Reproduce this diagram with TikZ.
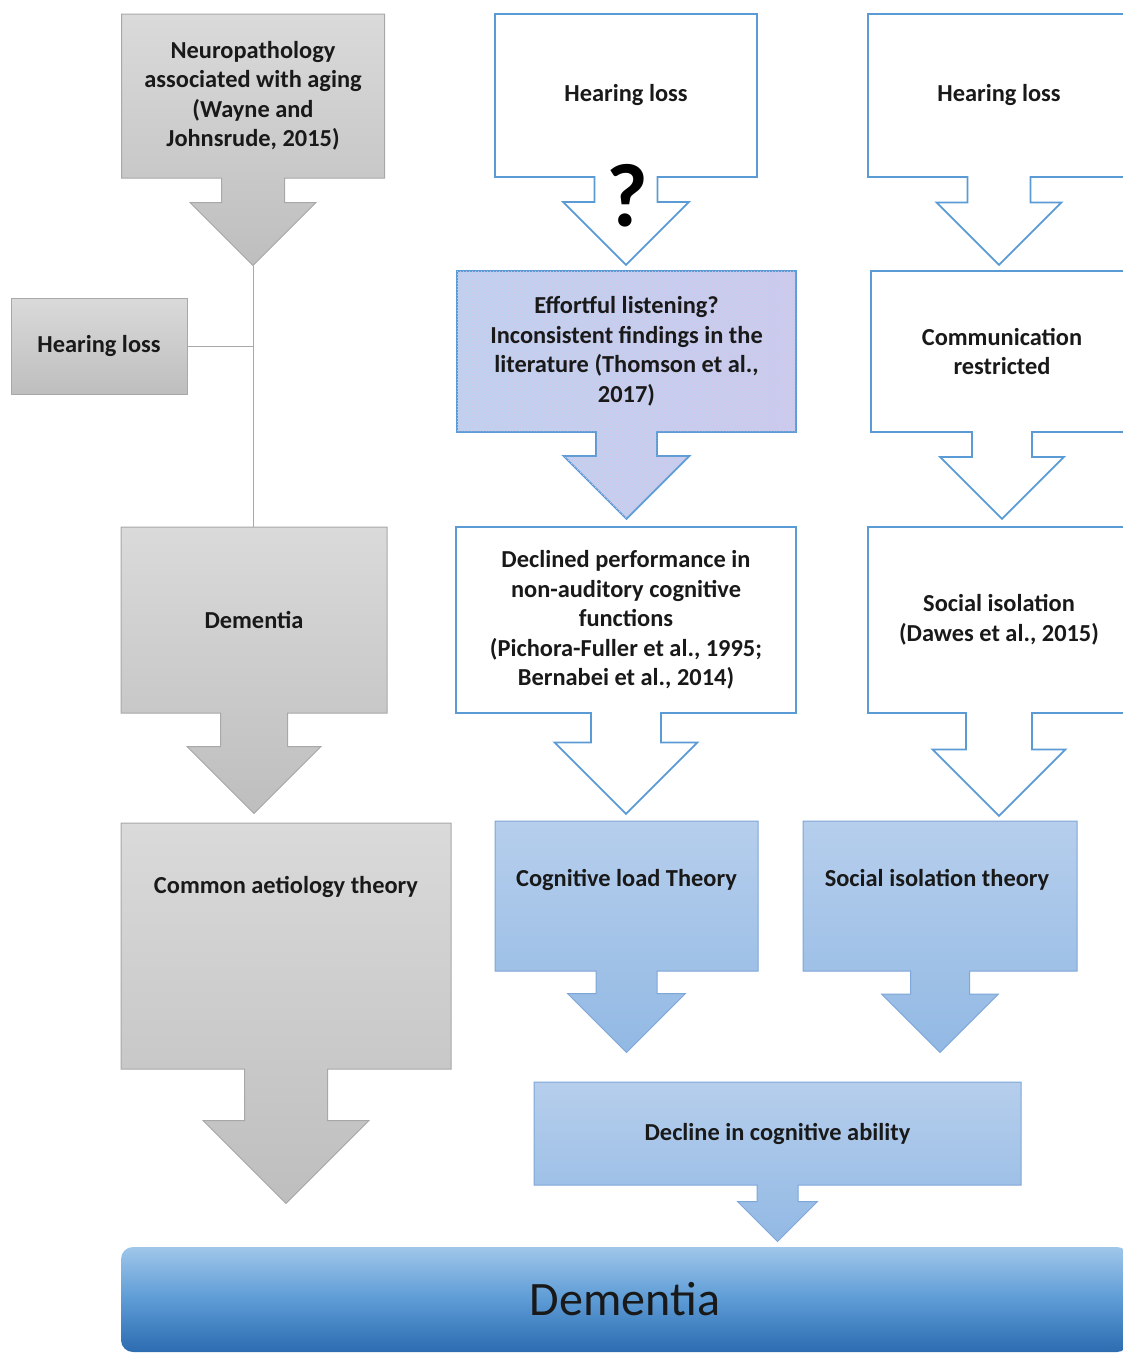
\documentclass[tikz,border=0pt]{standalone}
\usepackage{fontspec}
\setmainfont{Carlito}
\usetikzlibrary{shapes.arrows,patterns}
\definecolor{hlblue}{RGB}{91,155,213}
\definecolor{greytop}{RGB}{218,218,218}
\definecolor{greybot}{RGB}{190,190,190}
\definecolor{greyline}{RGB}{168,168,168}
\definecolor{thtop}{RGB}{182,206,236}
\definecolor{thbot}{RGB}{146,185,228}
\definecolor{thline}{RGB}{126,166,216}
\definecolor{efleft}{RGB}{190,210,240}
\definecolor{efright}{RGB}{200,204,238}
\definecolor{efdots}{RGB}{222,196,230}
\definecolor{dmtop}{RGB}{160,198,234}
\definecolor{dmmid}{RGB}{92,155,213}
\definecolor{dmbot}{RGB}{44,108,176}
\tikzset{
  txt/.style={font=\bfseries\fontsize{24.4}{29.5}\selectfont, align=center, text=black!90, inner sep=0pt},
  callout/.style={arrow box, txt, arrow box north arrow=-1cm, arrow box east arrow=-1cm, arrow box west arrow=-1cm},
  greybox/.style={callout, draw=greyline, line width=1pt, top color=greytop, bottom color=greybot},
  openbox/.style={callout, draw=hlblue, line width=1.8pt, fill=white},
  theory/.style={callout, draw=thline, line width=1pt, top color=thtop, bottom color=thbot},
  link/.style={draw=greyline, line width=1pt}
}
\begin{document}
\begin{tikzpicture}[x=1pt,y=-1pt]
\clip (0,0) rectangle (1123,1353);
% left column
\node[greybox, minimum width=263pt, minimum height=164pt, arrow box south arrow=87pt, arrow box shaft width=63pt, arrow box head extend=31.5pt] (np) at (253,96) {Neuropathology\\associated with aging\\(Wayne and\\Johnsrude, 2015)};
\node[txt, draw=greyline, line width=1pt, top color=greytop, bottom color=greybot, minimum width=176pt, minimum height=96pt] (hl0) at (99,346) {Hearing loss};
\node[greybox, minimum width=266pt, minimum height=186pt, arrow box south arrow=100pt, arrow box shaft width=67pt, arrow box head extend=33.5pt] (dem) at (254,620) {Dementia};
\node[greybox, minimum width=330pt, minimum height=246pt, arrow box south arrow=134pt, arrow box shaft width=83pt, arrow box head extend=41.5pt] (cat) at (286,946) {};
\node[txt] (catT) at (286,887) {Common aetiology theory};
\draw[link] (np.south) -- (np.south |- dem.north);
\draw[link] (hl0.east) -- (hl0.east -| np.south);

% middle column
\node[openbox, minimum width=262pt, minimum height=163pt, arrow box south arrow=87pt, arrow box shaft width=63pt, arrow box head extend=31.5pt] (hlm) at (626,95.5) {Hearing loss};
\node[font=\bfseries\fontsize{90}{90}\selectfont, inner sep=0pt] (qm) at (627,196) {?};
\node[callout, draw=hlblue, line width=1.8pt, left color=efleft, right color=efright,
  postaction={pattern=crosshatch dots, pattern color=efdots},
  minimum width=339pt, minimum height=161pt, arrow box south arrow=86pt, arrow box shaft width=61pt, arrow box head extend=32.5pt] (eff) at (626.5,351.5) {Effortful listening?\\Inconsistent findings in the\\literature (Thomson et al.,\\2017)};
\node[openbox, minimum width=340pt, minimum height=186pt, arrow box south arrow=100pt, arrow box shaft width=70pt, arrow box head extend=36.5pt] (dec) at (626,620) {Declined performance in\\non-auditory cognitive\\functions\\(Pichora-Fuller et al., 1995;\\Bernabei et al., 2014)};
\node[theory, minimum width=263pt, minimum height=150pt, arrow box south arrow=81pt, arrow box shaft width=61pt, arrow box head extend=28.5pt] (clt) at (626.5,896) {};
\node[txt] (cltT) at (626.5,880) {Cognitive load Theory};

% right column
\node[openbox, minimum width=262pt, minimum height=163pt, arrow box south arrow=87pt, arrow box shaft width=63pt, arrow box head extend=31pt] (hlr) at (999,95.5) {Hearing loss};
\node[openbox, minimum width=262pt, minimum height=161pt, arrow box south arrow=86pt, arrow box shaft width=60pt, arrow box head extend=32pt] (com) at (1002,351.5) {Communication\\restricted};
\node[openbox, minimum width=262pt, minimum height=186pt, arrow box south arrow=102pt, arrow box shaft width=66pt, arrow box head extend=33.5pt] (soc) at (999,620) {Social isolation\\(Dawes et al., 2015)};
\node[theory, minimum width=274pt, minimum height=150pt, arrow box south arrow=81pt, arrow box shaft width=59pt, arrow box head extend=29pt] (sit) at (940,896) {};
\node[txt] (sitT) at (937,880) {Social isolation theory};

% bottom
\node[theory, minimum width=487pt, minimum height=103pt, arrow box south arrow=56pt, arrow box shaft width=41pt, arrow box head extend=19.5pt] (dca) at (777.5,1133.5) {Decline in cognitive ability};
\node[rounded corners=12pt, top color=dmtop, bottom color=dmbot, middle color=dmmid, minimum width=1008pt, minimum height=105pt,
  font=\fontsize{48}{58}\selectfont, text=black!90, inner sep=0pt] (dmt) at (625,1299.5) {Dementia};
\end{tikzpicture}
\end{document}
